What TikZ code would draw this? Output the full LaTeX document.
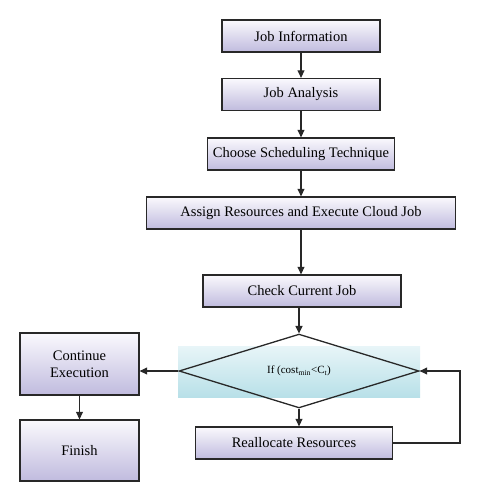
\documentclass[tikz,border=0pt]{standalone}
\usepackage{fontspec}
\setmainfont{Liberation Serif}
\usepackage{xcolor}
\usetikzlibrary{arrows.meta,shapes.geometric,positioning}
\definecolor{boxtop}{RGB}{250,249,253}
\definecolor{boxbot}{RGB}{192,187,222}
\definecolor{bandtop}{RGB}{232,245,248}
\definecolor{bandbot}{RGB}{184,224,232}
\definecolor{edge}{RGB}{40,40,40}

\begin{document}
\begin{tikzpicture}[
    x=1pt, y=-1pt,
    box/.style={draw=edge, line width=1.3pt, inner sep=0pt, minimum width=#1, minimum height=32pt,
        top color=boxtop, bottom color=boxbot, font=\fontsize{14.5}{17}\selectfont, align=center},
    arrow/.style={-{Triangle[length=7.5pt,width=7pt]}, line width=1.2pt, draw=edge}
]
\useasboundingbox (0,0) rectangle (476,492);

% Main column
\node[box=158pt] (info) at (301,36) {Job Information};
\node[box=158pt] (analysis) at (301,94.5) {Job Analysis};
\node[box=187pt] (choose) at (301,154) {Choose Scheduling Technique};
\node[box=309pt] (assign) at (301,213) {Assign Resources and Execute Cloud Job};
\node[box=198pt] (check) at (302,291) {Check Current Job};

% Decision
\node[inner sep=0pt, minimum width=242pt, minimum height=51pt, top color=bandtop, bottom color=bandbot] (band) at (299,371.5) {};
\node[draw=edge, line width=1.3pt, shape=diamond, inner sep=0pt, minimum width=240pt, minimum height=49pt,
    font=\fontsize{11}{13}\selectfont] (decide) at (299,371) {If (cost\textsubscript{min}<C\textsubscript{t})};

% Outcomes
\node[box=119pt, minimum height=62pt] (continue) at (79.5,364) {Continue\\Execution};
\node[box=119pt, minimum height=61pt] (finish) at (79.5,450.5) {Finish};
\node[box=197pt] (realloc) at (294,443) {Reallocate Resources};
\coordinate (loopb) at (460,443);
\coordinate (loopt) at (460,371);

% Arrows
\draw[arrow] (info) -- (analysis);
\draw[arrow] (analysis) -- (choose);
\draw[arrow] (choose) -- (assign);
\draw[arrow] (assign) -- (assign.south |- check.north);
\draw[arrow] (check.south -| decide) -- (decide.north);
\draw[arrow] (decide.west) -- (continue.east |- decide.west);
\draw[arrow] (continue) -- (finish);
\draw[arrow] (decide.south) -- (decide.south |- realloc.north);
\draw[arrow] (realloc.east) -- (loopb) -- (loopt) -- (decide.east);
\end{tikzpicture}
\end{document}
